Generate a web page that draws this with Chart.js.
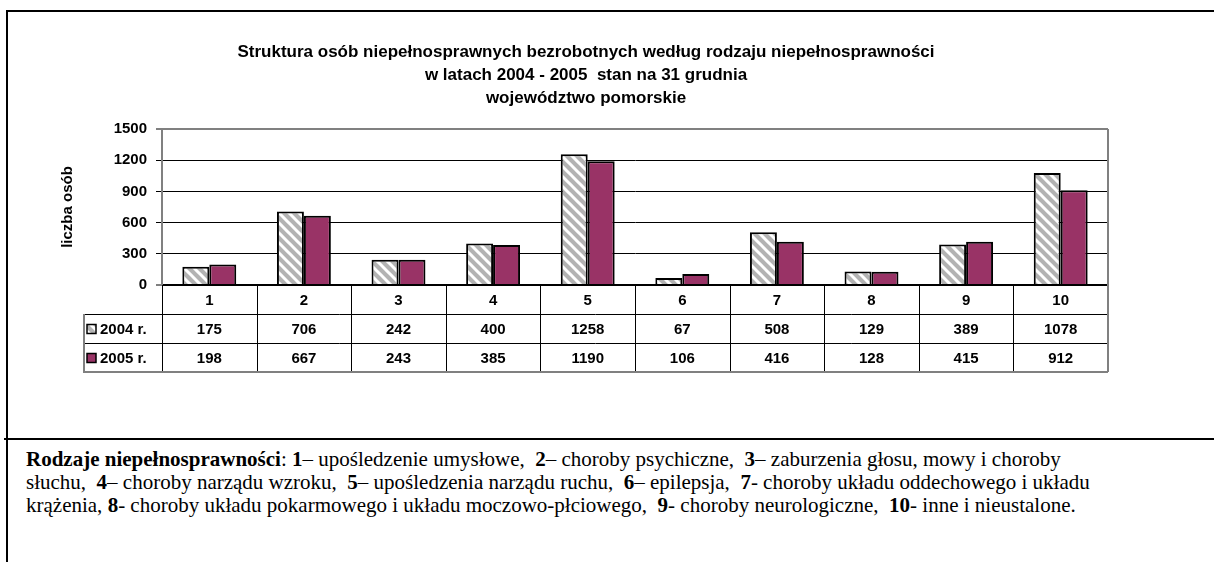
<!DOCTYPE html>
<html>
<head>
<meta charset="utf-8">
<script src="https://cdn.jsdelivr.net/npm/chart.js@4.4.1/dist/chart.umd.min.js"></script>
<style>
  body { margin: 0; background: #fff; width: 1214px; height: 562px; overflow: hidden; position: relative; }
  .line { position: absolute; background: #000; }
  #chartBox { position: absolute; left: 9px; top: 13px; }
  .note {
    position: absolute; left: 26px; top: 448px;
    font-family: "Liberation Serif", "Times New Roman", serif;
    font-size: 21px; line-height: 23px; white-space: nowrap; color: #000;
  }
</style>
</head>
<body>
<div class="line" style="left:6px;top:10px;width:1208px;height:2px"></div>
<div class="line" style="left:6px;top:10px;width:2px;height:552px"></div>
<div class="line" style="left:4px;top:438px;width:1210px;height:2px"></div>

<div id="chartBox"><canvas id="chart" width="1149" height="424"></canvas></div>

<div class="note">
<b>Rodzaje niepełnosprawności</b>: <b>1</b>– upośledzenie umysłowe,&nbsp; <b>2</b>– choroby psychiczne,&nbsp; <b>3</b>– zaburzenia głosu, mowy i choroby<br>
słuchu,&nbsp; <b>4</b>– choroby narządu wzroku,&nbsp; <b>5</b>– upośledzenia narządu ruchu,&nbsp; <b>6</b>– epilepsja,&nbsp; <b>7</b>- choroby układu oddechowego i układu<br>
krążenia, <b>8</b>- choroby układu pokarmowego i układu moczowo-płciowego,&nbsp; <b>9</b>- choroby neurologiczne,&nbsp; <b>10</b>- inne i nieustalone.
</div>

<script>
// dane
const categories = ["1", "2", "3", "4", "5", "6", "7", "8", "9", "10"];
const seriesNames = ["2004 r.", "2005 r."];
const values2004 = [175, 706, 242, 400, 1258, 67, 508, 129, 389, 1078];
const values2005 = [198, 667, 243, 385, 1190, 106, 416, 128, 415, 912];
const yTicks = [0, 300, 600, 900, 1200, 1500];
const titleLines = [
  "Struktura osób niepełnosprawnych bezrobotnych według rodzaju niepełnosprawności",
  "w latach 2004 - 2005  stan na 31 grudnia",
  "województwo pomorskie",
];
const yTitle = "liczba osób";

const FONT = "'Liberation Sans', Arial, sans-serif";

// ukośne paski dla 2004
function stripes() {
  const c = document.createElement("canvas");
  c.width = 10;
  c.height = 10;
  const g = c.getContext("2d");
  g.fillStyle = "#b3b3b3";
  g.fillRect(0, 0, 10, 10);
  g.strokeStyle = "#fff";
  g.lineWidth = 3;
  for (let k = -10; k <= 10; k += 10) {
    g.beginPath();
    g.moveTo(-2, k - 2);
    g.lineTo(12, k + 12);
    g.stroke();
  }
  return g.createPattern(c, "repeat");
}
const fill2004 = stripes();
const fill2005 = "#993366";

/* ===== tabela danych pod wykresem ===== */
const tablePlugin = {
  id: "dataTable",
  afterDraw(chart) {
    const { ctx, chartArea } = chart;
    const x = chart.scales.x;
    const rowH = 29;
    const top = chartArea.bottom;
    const left = chartArea.left;
    const right = chartArea.right;
    const legLeft = left - 79;
    const step = (right - left) / categories.length;
    const px = (v) => Math.round(v) + 0.5;

    ctx.save();
    // linie wewnętrzne
    ctx.strokeStyle = "#000";
    ctx.lineWidth = 1;
    ctx.beginPath();
    for (let r = 1; r <= 2; r++) {
      ctx.moveTo(legLeft, px(top + r * rowH));
      ctx.lineTo(right, px(top + r * rowH));
    }
    for (let i = 0; i < categories.length; i++) {
      ctx.moveTo(px(left + i * step), top);
      ctx.lineTo(px(left + i * step), top + 3 * rowH);
    }
    ctx.stroke();

    // obramowanie zewnętrzne
    ctx.strokeStyle = "#808080";
    ctx.lineWidth = 2;
    ctx.beginPath();
    ctx.moveTo(legLeft + 1, top + rowH);
    ctx.lineTo(legLeft + 1, top + 3 * rowH);
    ctx.lineTo(right, top + 3 * rowH);
    ctx.moveTo(right, chartArea.top);
    ctx.lineTo(right, top + 3 * rowH);
    ctx.stroke();

    // teksty
    ctx.fillStyle = "#000";
    ctx.font = "bold 15px " + FONT;
    ctx.textAlign = "center";
    ctx.textBaseline = "middle";
    const rows = [values2004, values2005];
    categories.forEach((c, i) => {
      const cx = x.getPixelForValue(i);
      ctx.fillText(c, cx, top + rowH / 2 + 1);
      rows.forEach((vals, r) => {
        ctx.fillText(String(vals[i]), cx, top + (r + 1.5) * rowH + 1);
      });
    });

    // legenda w tabeli
    const fills = [fill2004, fill2005];
    ctx.textAlign = "left";
    seriesNames.forEach((name, r) => {
      const cy = top + (r + 1.5) * rowH;
      ctx.fillStyle = fills[r];
      ctx.fillRect(legLeft + 4, cy - 4, 9, 9);
      ctx.strokeStyle = "#000";
      ctx.lineWidth = 1.5;
      ctx.strokeRect(legLeft + 4, cy - 4, 9, 9);
      ctx.fillStyle = "#000";
      ctx.fillText(name, legLeft + 17, cy + 1);
    });
    ctx.restore();
  },
};

const ctx = document.getElementById("chart").getContext("2d");
const chart = new Chart(ctx, {
  type: "bar",
  data: {
    labels: categories,
    datasets: [
      {
        label: seriesNames[0],
        data: values2004,
        backgroundColor: fill2004,
        borderColor: "#000",
        borderWidth: 2,
        barPercentage: 1,
        categoryPercentage: 0.57,
      },
      {
        label: seriesNames[1],
        data: values2005,
        backgroundColor: fill2005,
        borderColor: "#000",
        borderWidth: 2,
        barPercentage: 1,
        categoryPercentage: 0.57,
      },
    ],
  },
  options: {
    responsive: false,
    animation: false,
    layout: { padding: { left: 55, right: 50, top: 0, bottom: 152 } },
    plugins: {
      legend: { display: false },
      tooltip: { enabled: false },
      title: {
        display: true,
        text: titleLines,
        color: "#000",
        font: { family: FONT, size: 17, weight: "bold", lineHeight: 23 / 17 },
        padding: { top: 28, bottom: 19 },
      },
    },
    scales: {
      x: { display: false },
      y: {
        min: 0,
        max: 1500,
        afterFit(scale) {
          scale.width = 98;
        },
        afterBuildTicks(scale) {
          scale.ticks = yTicks.map((v) => ({ value: v }));
        },
        border: { color: "#808080", width: 2 },
        grid: {
          color: (c) => (c.tick && c.tick.value === 1500 ? "#808080" : "#000"),
          lineWidth: (c) => (c.tick && (c.tick.value === 0 || c.tick.value === 1500) ? 2 : 1),
          tickColor: "#000",
          tickLength: 6,
          tickWidth: 1,
        },
        ticks: {
          color: "#000",
          padding: 9,
          font: { family: FONT, size: 15, weight: "bold" },
          callback: (v) => String(v),
        },
        title: {
          display: true,
          text: yTitle,
          color: "#000",
          padding: { top: -5, bottom: 0 },
          font: { family: FONT, size: 15, weight: "bold" },
        },
      },
    },
  },
  plugins: [tablePlugin],
});
</script>
</body>
</html>
